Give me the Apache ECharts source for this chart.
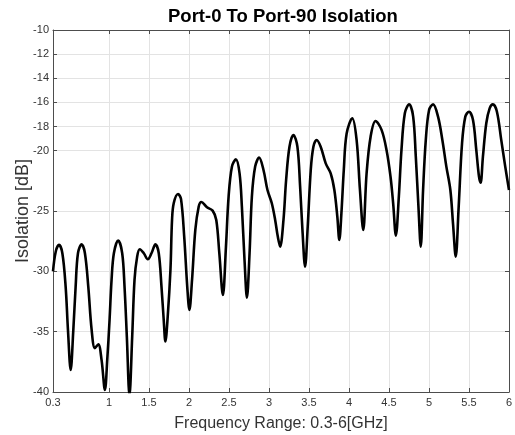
<!DOCTYPE html>
<html>
<head>
<meta charset="utf-8">
<script src="https://cdn.jsdelivr.net/npm/echarts@6/dist/echarts.min.js"></script>
<style>
html,body{margin:0;padding:0;background:#fff;}
#chart{width:515px;height:435px;}
</style>
</head>
<body>
<div id="chart"></div>
<script>
var freqGHz = [
  0.3, 0.334, 0.375, 0.417, 0.458, 0.487, 0.521, 0.554, 0.583, 0.612,
  0.658, 0.699, 0.741, 0.783, 0.824, 0.866, 0.907, 0.949, 0.978, 1.007,
  1.032, 1.061, 1.115, 1.165, 1.194, 1.223, 1.256, 1.29, 1.319, 1.352,
  1.385, 1.435, 1.485, 1.531, 1.581, 1.622, 1.656, 1.684, 1.705, 1.734,
  1.768, 1.788, 1.809, 1.863, 1.9, 1.94, 1.978, 2.005, 2.038, 2.079,
  2.121, 2.154, 2.225, 2.295, 2.341, 2.379, 2.424, 2.462, 2.495, 2.537,
  2.586, 2.632, 2.661, 2.694, 2.724, 2.757, 2.786, 2.827, 2.877, 2.931,
  2.981, 3.035, 3.077, 3.11, 3.139, 3.181, 3.214, 3.256, 3.305, 3.355,
  3.389, 3.418, 3.451, 3.484, 3.522, 3.555, 3.596, 3.646, 3.709, 3.771,
  3.817, 3.854, 3.879, 3.905, 3.935, 3.97, 4.041, 4.095, 4.137, 4.178,
  4.22, 4.27, 4.332, 4.407, 4.469, 4.519, 4.552, 4.586, 4.623, 4.656,
  4.698, 4.752, 4.802, 4.835, 4.868, 4.897, 4.926, 4.96, 5.001, 5.051,
  5.113, 5.167, 5.217, 5.267, 5.3, 5.334, 5.371, 5.413, 5.454, 5.5,
  5.55, 5.591, 5.625, 5.645, 5.674, 5.716, 5.758, 5.799, 5.849, 5.903,
  5.953, 6.0
];
var isolationDb = [
  -30.0, -28.37, -27.81, -28.5, -31.26, -34.85, -38.17, -34.85, -31.26, -28.5,
  -27.76, -28.5, -31.26, -34.85, -36.37, -36.04, -37.34, -39.83, -37.34, -34.03,
  -30.71, -28.5, -27.45, -28.5, -31.26, -35.41, -40.3, -35.41, -30.71, -28.78,
  -28.17, -28.5, -29.0, -28.5, -27.76, -28.5, -31.26, -34.03, -35.82, -33.75,
  -29.88, -25.74, -24.36, -23.59, -24.0, -27.12, -31.26, -33.2, -30.71, -26.57,
  -24.64, -24.25, -24.69, -24.97, -25.74, -28.5, -31.96, -27.95, -23.81, -21.32,
  -20.72, -21.88, -24.64, -29.06, -32.18, -28.5, -23.81, -21.32, -20.58, -21.6,
  -23.26, -24.36, -25.74, -27.12, -27.95, -25.74, -22.43, -19.67, -18.7, -19.67,
  -22.98, -26.57, -29.61, -26.29, -21.6, -19.67, -19.11, -19.67, -21.05, -21.88,
  -23.26, -25.47, -27.4, -25.2, -21.6, -18.6, -17.32, -19.11, -23.26, -26.57,
  -21.87, -18.84, -17.54, -18.28, -19.94, -22.15, -24.36, -27.04, -23.81, -19.94,
  -16.9, -16.16, -17.18, -20.49, -24.64, -27.95, -23.26, -19.11, -16.63, -16.16,
  -17.18, -19.11, -21.32, -23.26, -26.02, -28.78, -24.64, -19.39, -17.18, -16.77,
  -17.46, -19.94, -22.15, -22.65, -20.49, -17.73, -16.49, -16.16, -16.77, -19.11,
  -21.32, -23.26
];
var xTicks = [0.3, 1, 1.5, 2, 2.5, 3, 3.5, 4, 4.5, 5, 5.5, 6];
var yTicks = [-40, -35, -30, -25, -20, -18, -16, -14, -12, -10];

var lineData = freqGHz.map(function (f, i) { return [f, isolationDb[i]]; });

var axisColor = '#4d4d4d';
var labelColor = '#333333';
var gridColor = '#e3e3e3';
var fontFam = '"Liberation Sans", Arial, sans-serif';

var chart = echarts.init(document.getElementById('chart'), null, {renderer: 'canvas'});
chart.setOption({
  animation: false,
  backgroundColor: '#ffffff',
  title: {
    text: 'Port-0 To Port-90 Isolation',
    left: 163,
    top: 2,
    textStyle: {fontFamily: fontFam, fontSize: 18.5, fontWeight: 'bold', color: '#000'}
  },
  grid: {left: 53, right: 6, top: 30, bottom: 43, containLabel: false, outerBoundsMode: 'none'},
  xAxis: [{
    type: 'value', min: 0.3, max: 6, position: 'bottom',
    name: 'Frequency Range: 0.3-6[GHz]', nameLocation: 'middle', nameGap: 24, nameMoveOverlap: false,
    nameTextStyle: {fontFamily: fontFam, fontSize: 16, color: labelColor},
    axisLine: {show: true, onZero: false, lineStyle: {color: axisColor, width: 1}},
    axisTick: {show: true, inside: true, length: 4, customValues: xTicks, lineStyle: {color: axisColor}},
    axisLabel: {show: true, customValues: xTicks, margin: 5, fontFamily: fontFam, fontSize: 11, color: labelColor,
      formatter: function (v) { return String(v); }},
    splitLine: {show: true, customValues: xTicks, lineStyle: {color: gridColor, width: 1}}
  }, {
    type: 'value', min: 0.3, max: 6, position: 'top',
    axisLine: {show: true, onZero: false, lineStyle: {color: axisColor, width: 1}},
    axisTick: {show: true, inside: true, length: 4, customValues: xTicks, lineStyle: {color: axisColor}},
    axisLabel: {show: false},
    splitLine: {show: false}
  }],
  yAxis: [{
    type: 'value', min: -40, max: -10, position: 'left',
    name: 'Isolation [dB]', nameLocation: 'middle', nameGap: 21, nameMoveOverlap: false,
    nameTextStyle: {fontFamily: fontFam, fontSize: 18, color: labelColor},
    axisLine: {show: true, onZero: false, lineStyle: {color: axisColor, width: 1}},
    axisTick: {show: true, inside: true, length: 4, customValues: yTicks, lineStyle: {color: axisColor}},
    axisLabel: {show: true, customValues: yTicks, margin: 4, fontFamily: fontFam, fontSize: 11, color: labelColor},
    splitLine: {show: true, customValues: yTicks, lineStyle: {color: gridColor, width: 1}}
  }, {
    type: 'value', min: -40, max: -10, position: 'right',
    axisLine: {show: true, onZero: false, lineStyle: {color: axisColor, width: 1}},
    axisTick: {show: true, inside: true, length: 4, customValues: yTicks, lineStyle: {color: axisColor}},
    axisLabel: {show: false},
    splitLine: {show: false}
  }],
  series: [{
    type: 'line',
    xAxisIndex: 0, yAxisIndex: 0,
    data: lineData,
    showSymbol: false,
    smooth: 0.35,
    clip: true,
    lineStyle: {color: '#000000', width: 2.6},
    itemStyle: {color: '#000000'}
  }]
});
</script>
</body>
</html>
